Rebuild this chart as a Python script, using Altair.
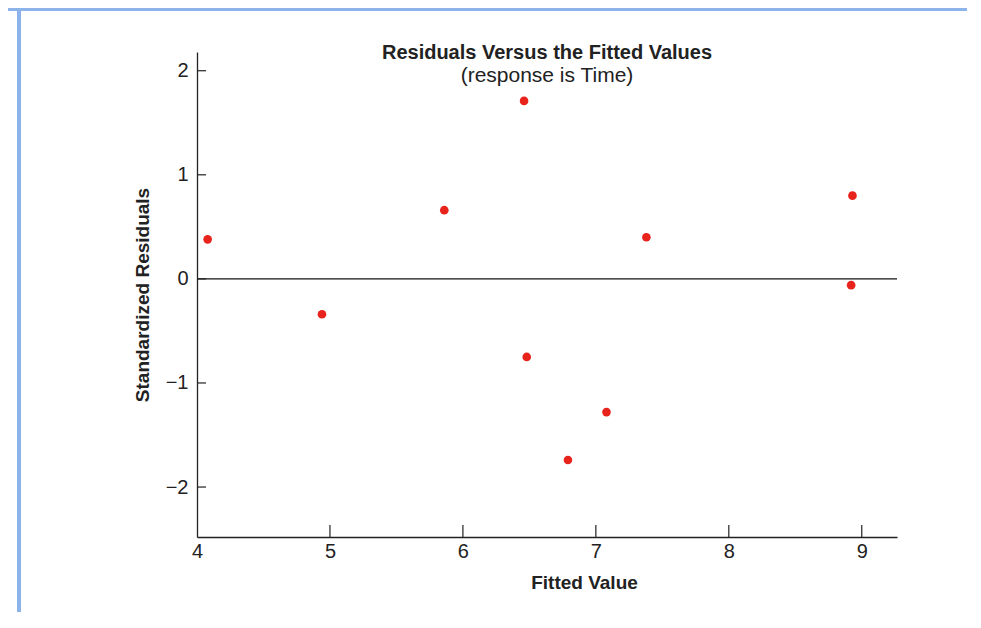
import altair as alt
import pandas as pd

# Data
fitted = [4.08, 4.94, 5.86, 6.46, 6.48, 6.79, 7.08, 7.38, 8.93, 8.92]
std_resid = [0.38, -0.34, 0.66, 1.71, -0.75, -1.74, -1.28, 0.40, 0.80, -0.06]
y_ticks = [-2, -1, 0, 1, 2]
x_ticks = [5, 6, 7, 8, 9]

pts = pd.DataFrame({"Fitted Value": fitted, "Standardized Residuals": std_resid})
yt = pd.DataFrame({"v": y_ticks})
xt = pd.DataFrame({"v": x_ticks})

W, H = 700, 485
FONT = "Liberation Sans"
INK = "#222222"
RED = "#e8231c"
BLUE = "#8db4ea"

xscale = alt.Scale(domain=[4, 9.265], nice=False, zero=False)
yscale = alt.Scale(domain=[-2.48, 2.18], nice=False, zero=False)

xaxis = alt.Axis(values=[4, 5, 6, 7, 8, 9], format="d", ticks=False, grid=False,
                 domainColor=INK, domainWidth=1.3,
                 labelFont=FONT, labelFontSize=20, labelColor=INK, labelPadding=4,
                 labelFlush=False,
                 title="Fitted Value", titleFont=FONT, titleFontSize=19,
                 titleFontWeight="bold", titleColor=INK, titlePadding=12,
                 titleX=387, titleAlign="center")
yaxis = alt.Axis(values=y_ticks, format="d", ticks=False, grid=False,
                 domainColor=INK, domainWidth=1.3,
                 labelFont=FONT, labelFontSize=20, labelColor=INK, labelPadding=9,
                 title="Standardized Residuals", titleFont=FONT, titleFontSize=19,
                 titleFontWeight="bold", titleColor=INK, titlePadding=13)

points = alt.Chart(pts).mark_circle(size=75, color=RED, opacity=1).encode(
    x=alt.X("Fitted Value:Q", scale=xscale, axis=xaxis),
    y=alt.Y("Standardized Residuals:Q", scale=yscale, axis=yaxis),
)

zero_line = alt.Chart(pd.DataFrame({"z": [0]})).mark_rule(color="#111111", strokeWidth=1.3).encode(
    y=alt.Y("z:Q", scale=yscale)
)

ytick_marks = alt.Chart(yt).mark_rule(color=INK, strokeWidth=1.2).encode(
    y=alt.Y("v:Q", scale=yscale), x=alt.value(0), x2=alt.value(9)
)
xtick_marks = alt.Chart(xt).mark_rule(color=INK, strokeWidth=1.2).encode(
    x=alt.X("v:Q", scale=xscale), y=alt.value(H - 12), y2=alt.value(H)
)

# decorative page frame (from the scanned book page)
frame_left = alt.Chart(pd.DataFrame({"a": [0]})).mark_rule(color=BLUE, strokeWidth=4, clip=False).encode(
    x=alt.value(-178), y=alt.value(-44), y2=alt.value(H + 75)
)
frame_top = alt.Chart(pd.DataFrame({"a": [0]})).mark_rule(color=BLUE, strokeWidth=6, clip=False).encode(
    y=alt.value(-44), x=alt.value(-189), x2=alt.value(W + 70)
)

chart = alt.layer(frame_left, frame_top, zero_line, ytick_marks, xtick_marks, points).properties(
    width=W, height=H,
    view=alt.ViewBackground(stroke="transparent"),
    title=alt.TitleParams(
        text="Residuals Versus the Fitted Values",
        subtitle="(response is Time)",
        font=FONT, fontSize=20, fontWeight="bold", color=INK,
        subtitleFont=FONT, subtitleFontSize=21, subtitleColor=INK, subtitlePadding=2,
        anchor="middle", offset=-81,
    ),
    autosize=alt.AutoSizeParams(type="none"),
    padding={"left": 189, "top": 44, "right": 70, "bottom": 75},
).configure_view(stroke="transparent").configure(background="white")

chart.save("out.html", embed_options={"renderer": "svg", "actions": False})
